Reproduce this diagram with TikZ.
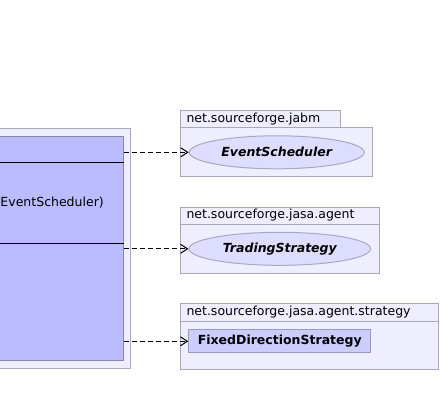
\documentclass[tikz,border=0pt]{standalone}
\usepackage{fontspec}
\setmainfont{DejaVu Sans}
\usetikzlibrary{arrows.meta,shapes.geometric}
\definecolor{outerfill}{HTML}{EEEEFF}
\definecolor{outerdraw}{HTML}{AAAABB}
\definecolor{innerfill}{HTML}{BBBBFF}
\definecolor{innerdraw}{HTML}{8888AA}
\definecolor{pkgfill}{HTML}{EEEEFF}
\definecolor{pkgdraw}{HTML}{A8A8B8}
\definecolor{ellfill}{HTML}{DDDDFF}
\definecolor{elldraw}{HTML}{A8A8C0}
\definecolor{clsfill}{HTML}{CCCCFF}
\definecolor{clsdraw}{HTML}{9999BB}
\begin{document}
\begin{tikzpicture}[x=1pt,y=-1pt,
  font=\fontsize{12.5}{15}\selectfont,
  box/.style={rectangle, inner sep=0pt, anchor=north west, line width=1pt},
  outerbox/.style={box, fill=outerfill, draw=outerdraw},
  innerbox/.style={box, fill=innerfill, draw=innerdraw},
  pkgbox/.style={box, fill=pkgfill, draw=pkgdraw},
  pkglabel/.style={anchor=west, inner sep=0pt},
  iface/.style={ellipse, fill=ellfill, draw=elldraw, line width=1pt, inner sep=0pt,
    font=\fontsize{12.5}{15}\selectfont\bfseries\itshape},
  klass/.style={box, fill=clsfill, draw=clsdraw, font=\fontsize{12.5}{15}\selectfont\bfseries},
  sep/.style={line width=1pt, black},
  dep/.style={line width=1pt, dash pattern=on 5pt off 3pt, -{Straight Barb[length=7pt,width=9pt]}}
]
\useasboundingbox (0,0) rectangle (441,406);
% main class
\node[outerbox, minimum width=150pt, minimum height=240.3pt] (outer) at (-20,127.7) {};
\node[innerbox, minimum width=142.7pt, minimum height=224pt] (cls) at (-20,136) {};
\coordinate (s1) at (0,162.3);
\coordinate (s2) at (0,243.3);
\draw[sep] (cls.west |- s1) -- (cls.east |- s1);
\draw[sep] (cls.west |- s2) -- (cls.east |- s2);
\node[anchor=west, inner sep=0pt] (op) at (0.3,203) {EventScheduler)};
% package 1
\node[pkgbox, minimum width=160pt, minimum height=17pt] (p1tab) at (180.3,110.3) {};
\node[pkgbox, minimum width=192pt, minimum height=49pt] (p1) at (180.3,127.3) {};
\node[pkglabel] (p1l) at (186.3,118.8) {net.sourceforge.jabm};
\node[iface, minimum width=175pt, minimum height=33pt] (es) at (276.7,152.3) {EventScheduler};
% package 2
\node[pkgbox, minimum width=199pt, minimum height=66.6pt] (p2) at (180.3,206.7) {};
\coordinate (h2) at (0,224.3);
\draw[pkgdraw, line width=1pt] (p2.west |- h2) -- (p2.east |- h2);
\node[pkglabel] (p2l) at (186.3,215.5) {net.sourceforge.jasa.agent};
\node[iface, minimum width=181.7pt, minimum height=33pt] (ts) at (279.8,248.8) {TradingStrategy};
% package 3
\node[pkgbox, minimum width=258pt, minimum height=66pt] (p3) at (180.3,303.3) {};
\coordinate (h3) at (0,321.7);
\draw[pkgdraw, line width=1pt] (p3.west |- h3) -- (p3.east |- h3);
\node[pkglabel] (p3l) at (186.3,312.5) {net.sourceforge.jasa.agent.strategy};
\node[klass, minimum width=182pt, minimum height=23pt] (fds) at (188.3,329.3) {FixedDirectionStrategy};
% dependencies
\draw[dep] (cls.east |- es.west) -- (es.west);
\draw[dep] (cls.east |- ts.west) -- (ts.west);
\draw[dep] (cls.east |- fds.west) -- (fds.west);
\end{tikzpicture}
\end{document}
